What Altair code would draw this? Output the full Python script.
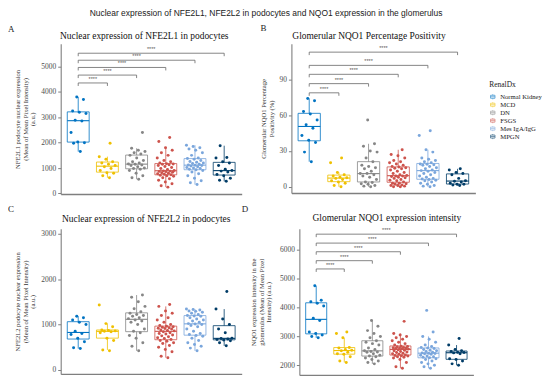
import altair as alt
import pandas as pd

groups = ["Normal Kidney", "MCD", "DN", "FSGS", "Mes IgA/IgG", "MPGN"]
colors = ["#0073C2", "#EFC000", "#868686", "#CD534C", "#7AA6DC", "#003C67"]

# Panel A: NFE2L1 podocyte nuclear expression
a_nk = [1650, 1980, 2000, 2030, 2400, 2850, 2880, 3150, 3200, 3250, 3700, 3800]
a_mcd = [620, 700, 800, 820, 900, 980, 1050, 1100, 1150, 1200, 1250, 1350, 1450, 1980]
a_dn = [560, 620, 700, 800, 900, 950, 980, 1000, 1050, 1100, 1120, 1150, 1160, 1200, 1250,
        1300, 1400, 1500, 1550, 1600, 1650, 1700, 1780, 2400]
a_fsgs = [250, 300, 380, 450, 520, 580, 620, 680, 700, 720, 740, 760, 780, 800, 820, 840, 860,
          870, 880, 890, 900, 940, 980, 1020, 1060, 1100, 1130, 1150, 1160, 1170, 1200, 1250,
          1300, 1400, 1500, 1600, 1700, 1800, 2050, 2200]
a_mes = [350, 420, 500, 600, 700, 780, 850, 900, 930, 950, 980, 1000, 1020, 1050, 1080, 1100,
         1110, 1120, 1150, 1180, 1200, 1230, 1260, 1300, 1350, 1380, 1400, 1500, 1600, 1700,
         1750, 1800, 1850, 1900]
a_mpgn = [480, 520, 600, 700, 750, 850, 880, 900, 950, 1100, 1200, 1250, 1400, 1420, 1880]

# Panel B: glomerular NQO1 percentage positivity
b_nk = [21, 29, 37, 39, 43, 49, 52, 56, 61, 63, 72, 74]
b_mcd = [0, 1, 3, 4, 5, 6, 7, 7.5, 8, 9, 10, 12, 20, 24]
b_dn = [0, 0.5, 1, 2, 2.5, 3.5, 4, 6, 8, 9, 10, 11, 11, 13, 15, 16, 17, 18, 21, 24, 29, 30,
        34, 36, 56]
b_fsgs = [0, 0, 0.5, 1, 1, 1.5, 2, 2.5, 3, 3, 4, 5, 5.5, 6, 7, 7.5, 8, 8.5, 9, 9, 9.5, 10, 11,
          12, 13, 14, 15, 15.5, 16, 16.5, 17, 18, 19, 20, 21, 22, 24, 26, 27, 31]
b_mes = [0, 0.5, 1, 2, 3, 4, 5, 5.5, 6, 6.5, 7, 8, 9, 10, 11, 12, 13, 13.5, 14, 15, 16, 17, 18,
         18.5, 18.8, 19, 20, 21, 22, 23, 24, 29, 31, 43, 47]
b_mpgn = [1, 1.5, 2, 2, 3, 4, 4.5, 5, 7, 10, 11, 12, 14, 15]

# Panel C: NFE2L2 podocyte nuclear expression
c_nk = [470, 490, 620, 700, 780, 800, 850, 1000, 1050, 1100, 1150, 1180]
c_mcd = [420, 440, 650, 700, 820, 840, 850, 860, 870, 880, 950, 1020, 1430]
c_dn = [420, 520, 600, 700, 760, 820, 850, 900, 1000, 1050, 1080, 1100, 1130, 1150, 1180,
        1200, 1220, 1250, 1280, 1350, 1400, 1500, 1600, 1650]
c_fsgs = [270, 300, 400, 450, 500, 540, 580, 600, 630, 650, 670, 690, 710, 730, 750, 770, 790,
          800, 820, 840, 860, 870, 880, 900, 910, 920, 930, 940, 950, 960, 980, 1000, 1050,
          1100, 1150, 1200, 1250, 1300, 1400, 1440]
c_mes = [420, 480, 520, 560, 600, 650, 700, 740, 760, 780, 800, 850, 900, 950, 980, 1000, 1010,
         1020, 1050, 1080, 1100, 1120, 1150, 1180, 1190, 1200, 1220, 1250, 1270, 1290, 1300,
         1320, 1330, 1340]
c_mpgn = [530, 600, 640, 660, 670, 680, 690, 700, 820, 900, 1000, 1120, 1340, 1730]

# Panel D: glomerular NQO1 expression intensity
d_nk = [2950, 3000, 3050, 3100, 3150, 3550, 3630, 4050, 4150, 4200, 4250, 4750]
d_mcd = [2100, 2150, 2300, 2380, 2400, 2450, 2500, 2520, 2550, 2600, 2620, 2950, 3100, 3150]
d_dn = [2050, 2100, 2150, 2200, 2250, 2300, 2320, 2350, 2400, 2450, 2460, 2480, 2500, 2550,
        2600, 2700, 2750, 2800, 2850, 2950, 3000, 3100, 3200, 3350, 3550]
d_fsgs = [1900, 1950, 2100, 2200, 2250, 2280, 2300, 2320, 2330, 2340, 2360, 2380, 2400, 2420,
          2440, 2460, 2480, 2500, 2520, 2540, 2560, 2570, 2580, 2590, 2600, 2610, 2620, 2640,
          2650, 2660, 2700, 2750, 2800, 2850, 2900, 2950, 3000, 3050, 3100, 3520]
d_mes = [1900, 1950, 2000, 2050, 2100, 2150, 2200, 2230, 2260, 2280, 2300, 2320, 2350, 2380,
         2400, 2410, 2420, 2430, 2450, 2480, 2500, 2520, 2550, 2580, 2600, 2620, 2650, 2700,
         2800, 2900, 3000, 3150, 3900]
d_mpgn = [2000, 2050, 2150, 2200, 2230, 2400, 2430, 2440, 2450, 2480, 2500, 2550, 2700, 2930]

# significance brackets (Normal Kidney vs each group)
a_levels = [4350, 4660, 4960, 5245, 5520]
b_levels = [78.7, 86.4, 94.2, 101.7, 112.8]
d_levels = [5333, 5619, 5928, 6227, 6536]
sig_label = "****"

main_title = "Nuclear expression of NFE2L1, NFE2L2 in podocytes and NQO1 expression in the glomerulus"

SERIF = "Liberation Serif"
SANS = "Liberation Sans"
AXC = "#7f7f7f"
BOXGLYPH = "M-0.75,-0.5H0.75V0.5H-0.75Z M-0.75,0H0.75 M0,-0.5V-0.85 M0,0.5V0.85"


def panel(vals, levels, title, ytitle, ydom, yticks, letter, letter_xy, title_xy, w, h,
          tpad=5, legend_xy=None):
    rows = [{"grp": g, "idx": i + 1, "val": v}
            for i, (g, vs) in enumerate(zip(groups, vals)) for v in vs]
    df = pd.DataFrame(rows)
    xs = alt.Scale(domain=[0.4, 6.6], nice=False, zero=False)
    ys = alt.Scale(domain=ydom, nice=False, zero=False)
    xax = alt.Axis(labels=False, ticks=False, grid=False, title=None,
                   domainColor=AXC, domainWidth=1.3)
    yax = alt.Axis(values=yticks, format="d", title=ytitle, grid=False, labelFont=SERIF,
                   labelFontSize=7.5, labelColor="#4d4d4d", tickColor=AXC, tickSize=3,
                   labelPadding=2, domainColor=AXC, domainWidth=1.1, titleFont=SERIF,
                   titleFontSize=6.6, titleFontWeight="normal", titleColor="#333333",
                   titleLineHeight=7.5, titlePadding=tpad)
    sc = alt.Scale(domain=groups, range=colors)
    strk = alt.Stroke("grp:N", scale=sc, legend=None)
    layers = []

    if legend_xy is not None:
        leg = alt.Legend(title="RenalDx", orient="none", legendX=legend_xy[0],
                         legendY=legend_xy[1], symbolType=BOXGLYPH, symbolSize=36,
                         symbolStrokeWidth=0.8, symbolFillColor="white",
                         titleFont=SERIF, titleFontSize=7.5, titleFontWeight="normal",
                         titleColor="#222222", labelFont=SERIF, labelFontSize=6.7,
                         labelColor="#222222", rowPadding=0, clipHeight=7.5,
                         titlePadding=5, labelOffset=4, padding=0)
        dummy = (alt.Chart(pd.DataFrame({"grp": groups}))
                 .transform_filter("false")
                 .mark_point(filled=False, fill="white", strokeWidth=0.8)
                 .encode(stroke=alt.Stroke("grp:N", scale=sc, legend=leg)))
        layers.append(dummy)

    base = alt.Chart(df)
    stats = (base
             .transform_joinaggregate(q1="q1(val)", q3="q3(val)", med="median(val)",
                                      groupby=["grp", "idx"])
             .transform_calculate(lo="datum.q1 - 1.5*(datum.q3-datum.q1)",
                                  hi="datum.q3 + 1.5*(datum.q3-datum.q1)")
             .transform_filter("datum.val >= datum.lo && datum.val <= datum.hi")
             .transform_aggregate(q1="min(q1)", q3="min(q3)", med="min(med)",
                                  wlo="min(val)", whi="max(val)", groupby=["grp", "idx"])
             .transform_calculate(xl="datum.idx - 0.375", xr="datum.idx + 0.375"))
    box = stats.mark_rect(fill="white", strokeWidth=0.8).encode(
        x=alt.X("xl:Q", scale=xs, axis=xax), x2="xr:Q",
        y=alt.Y("q1:Q", scale=ys, axis=yax), y2="q3:Q", stroke=strk)
    med = stats.mark_rule(strokeWidth=1.1).encode(
        x=alt.X("xl:Q", scale=xs, axis=xax), x2="xr:Q",
        y=alt.Y("med:Q", scale=ys, axis=yax), stroke=strk)
    wlo = stats.mark_rule(strokeWidth=0.8).encode(
        x=alt.X("idx:Q", scale=xs, axis=xax),
        y=alt.Y("wlo:Q", scale=ys, axis=yax), y2="q1:Q", stroke=strk)
    whi = stats.mark_rule(strokeWidth=0.8).encode(
        x=alt.X("idx:Q", scale=xs, axis=xax),
        y=alt.Y("q3:Q", scale=ys, axis=yax), y2="whi:Q", stroke=strk)
    pts = (base
           .transform_window(rn="row_number()", groupby=["grp"])
           .transform_calculate(xj="datum.idx + ((datum.rn * 0.6180339) % 1 - 0.5) * 0.6")
           .mark_circle(size=9, opacity=1)
           .encode(x=alt.X("xj:Q", scale=xs, axis=xax),
                   y=alt.Y("val:Q", scale=ys, axis=yax),
                   color=alt.Color("grp:N", scale=sc, legend=None)))
    layers += [box, wlo, whi, med, pts]

    if levels:
        br = pd.DataFrame({"k": [2, 3, 4, 5, 6], "lev": levels, "x1": [1] * 5,
                           "lab": [sig_label] * 5})
        bch = alt.Chart(br)
        hline = bch.mark_rule(color="#666666", strokeWidth=0.8).encode(
            x=alt.X("x1:Q", scale=xs, axis=xax), x2="k:Q",
            y=alt.Y("lev:Q", scale=ys, axis=yax))
        ends = (bch.transform_fold(["x1", "k"], as_=["end", "xe"])
                .mark_rule(color="#666666", strokeWidth=0.8, y2Offset=3)
                .encode(x=alt.X("xe:Q", scale=xs, axis=xax),
                        y=alt.Y("lev:Q", scale=ys, axis=yax), y2="lev:Q"))
        lab = (bch.transform_calculate(xm="(datum.x1 + datum.k) / 2")
               .mark_text(font=SANS, fontSize=5.5, color="#555555", baseline="bottom", dy=-1)
               .encode(x=alt.X("xm:Q", scale=xs, axis=xax),
                       y=alt.Y("lev:Q", scale=ys, axis=yax), text="lab:N"))
        layers += [hline, ends, lab]

    one = pd.DataFrame({"t": [letter], "s": [title]})
    let = alt.Chart(one).mark_text(font=SERIF, fontSize=9, color="#222222", align="left",
                                   baseline="middle").encode(
        x=alt.value(letter_xy[0]), y=alt.value(letter_xy[1]), text="t:N")
    tit = alt.Chart(one).mark_text(font=SERIF, fontSize=9.5, color="#111111", align="center",
                                   baseline="middle").encode(
        x=alt.value(title_xy[0]), y=alt.value(title_xy[1]), text="s:N")
    layers += [let, tit]

    return alt.layer(*layers).properties(width=w, height=h)


A = panel([a_nk, a_mcd, a_dn, a_fsgs, a_mes, a_mpgn], a_levels,
          "Nuclear expression of NFE2L1 in podocytes",
          ["NFE2L1 podocyte nuclear expression", "(Mean of Mean Pixel Intensity)", "(a.u.)"],
          [-20, 5890], [0, 1000, 2000, 3000, 4000, 5000], "A", (-53, -15), (84, -8), 182, 151)
B = panel([b_nk, b_mcd, b_dn, b_fsgs, b_mes, b_mpgn], b_levels,
          "Glomerular NQO1 Percentage Positivity",
          ["Glomerular NQO1 Percentage", "Positivity (%)"],
          [-5.25, 119.75], [0, 30, 60, 90], "B", (-31, -16), (78, -8), 185, 150,
          legend_xy=(199, 37))
C = panel([c_nk, c_mcd, c_dn, c_fsgs, c_mes, c_mpgn], None,
          "Nuclear expression of NFE2L2 in podocytes",
          ["NFE2L2 podocyte nuclear expression", "(Mean of Mean Pixel Intensity)", "(a.u.)"],
          [-90, 3110], [0, 1000, 2000, 3000], "C", (-53, -20), (86, -10), 182, 146)
D = panel([d_nk, d_mcd, d_dn, d_fsgs, d_mes, d_mpgn], d_levels,
          "Glomerular NQO1 expression intensity",
          ["NQO1 expression intensity in the", "glomerulus (Mean of Mean Pixel",
           "Intensity) (a.u.)"],
          [1666, 6722], [2000, 3000, 4000, 5000, 6000], "D", (-58, -20), (88, -11), 175, 147,
          tpad=8)

row1 = (alt.hconcat(A, B, spacing=19)
        .resolve_scale(x="independent", y="independent")
        .resolve_legend(stroke="independent"))
row2 = (alt.hconcat(C, D, spacing=0)
        .resolve_scale(x="independent", y="independent")
        .resolve_legend(stroke="independent"))

chart = (alt.vconcat(row1, row2, spacing=8)
         .resolve_scale(x="independent", y="independent")
         .resolve_legend(stroke="independent")
         .properties(padding=0,
                     title=alt.TitleParams(main_title, font=SANS, fontSize=8.5,
                                           fontWeight="normal", color="#222222",
                                           anchor="middle", offset=6, dx=-9))
         .configure_view(stroke=None))

chart.save("out.html", embed_options={"renderer": "svg", "actions": False})
